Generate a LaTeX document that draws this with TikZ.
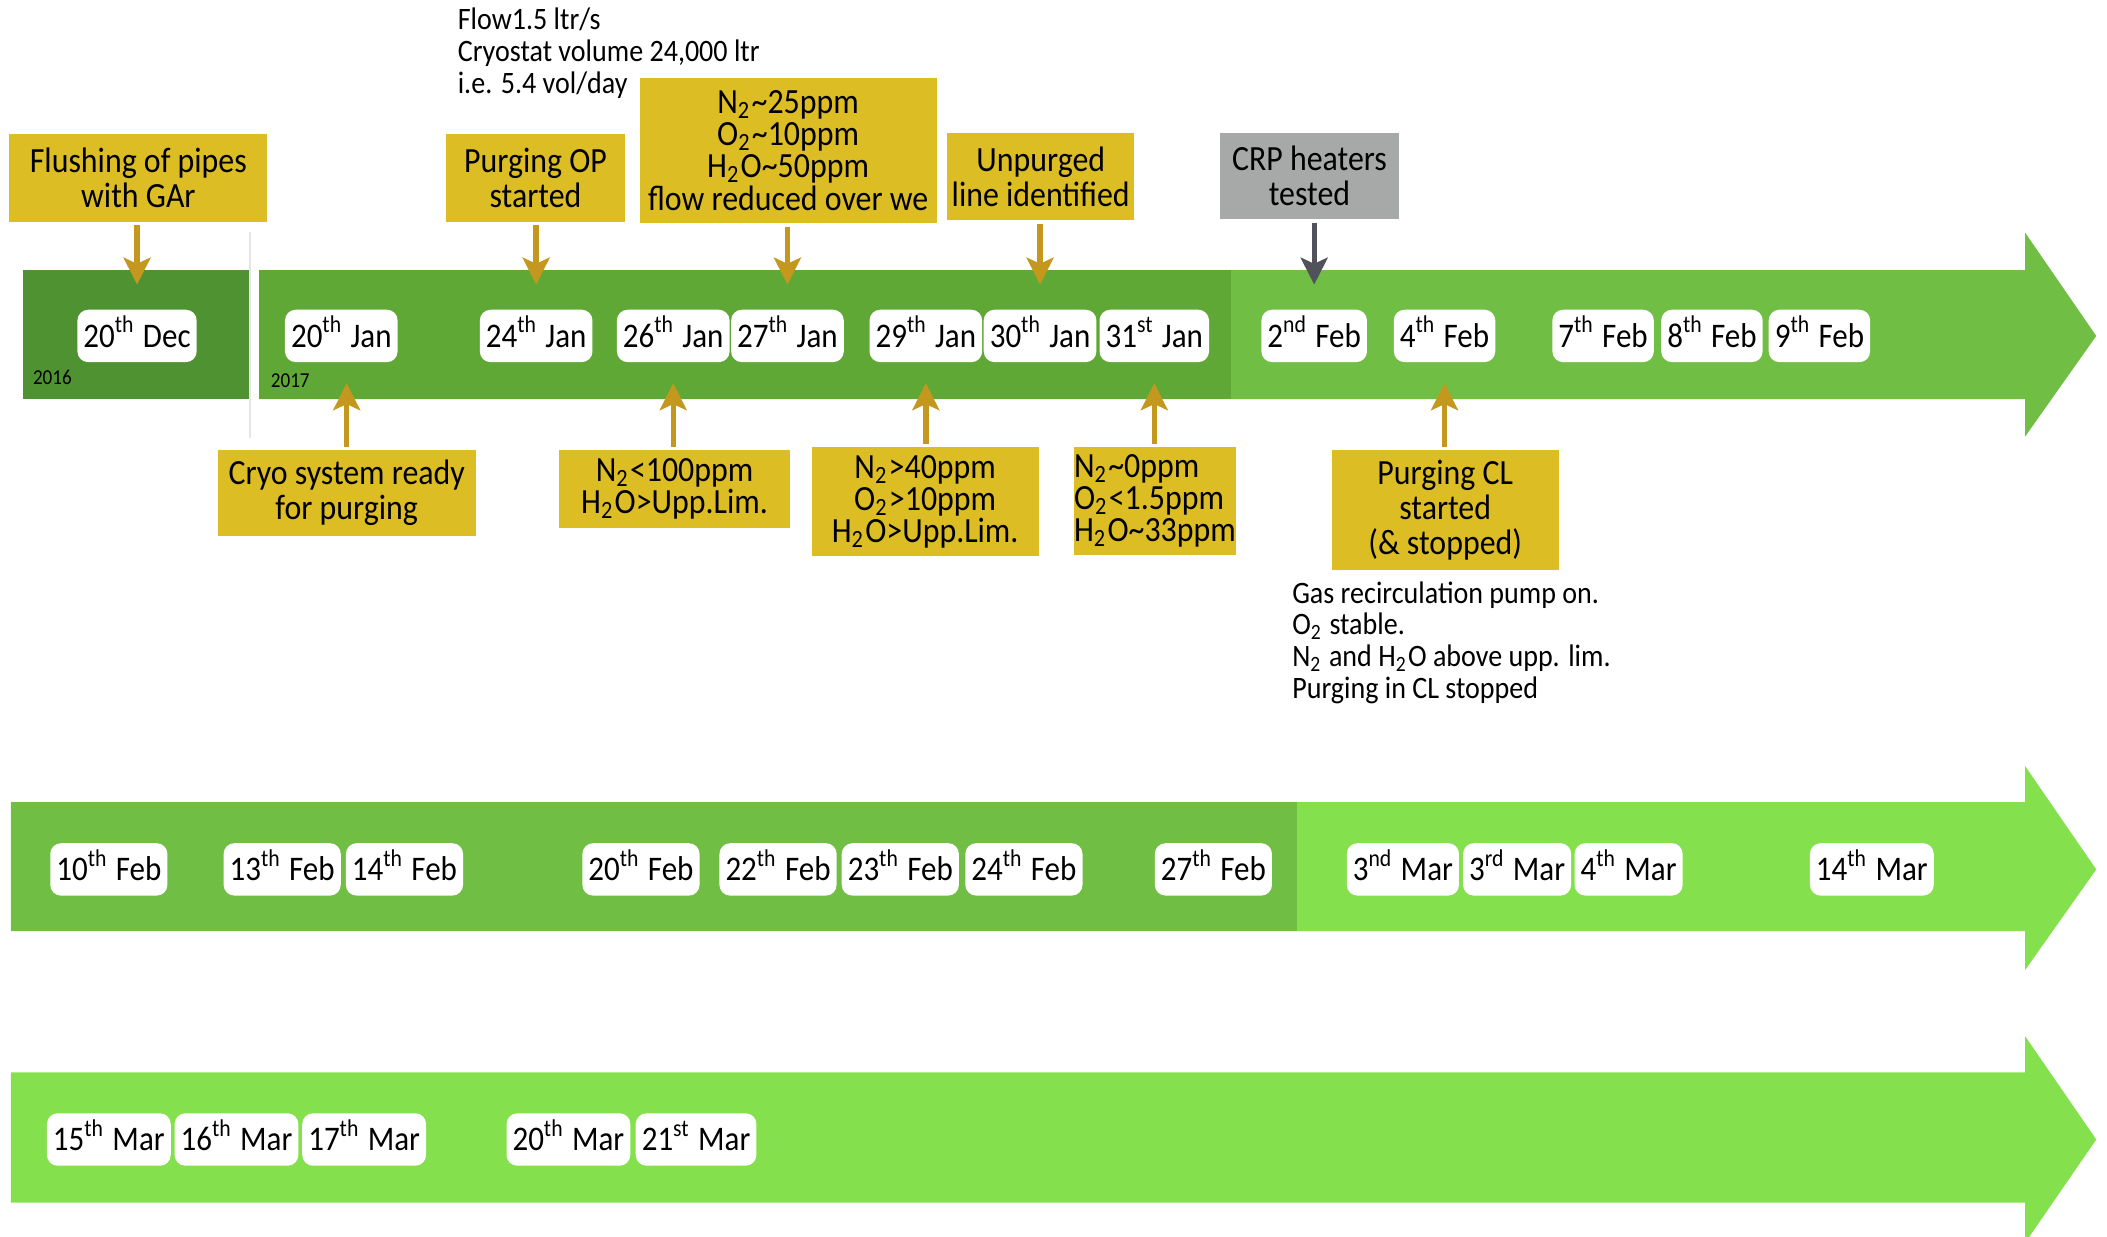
\documentclass[tikz,border=0pt]{standalone}
\usepackage{fontspec}
\setmainfont{Carlito}[FakeStretch=0.9]
\usetikzlibrary{arrows.meta}

\definecolor{greenA}{RGB}{79,146,49}
\definecolor{greenB}{RGB}{95,168,54}
\definecolor{greenC}{RGB}{112,191,68}
\definecolor{greenD}{RGB}{132,224,77}
\definecolor{callgold}{RGB}{221,189,36}
\definecolor{arrgold}{RGB}{196,152,30}
\definecolor{callgrey}{RGB}{166,169,167}
\definecolor{arrgrey}{RGB}{80,83,90}

\tikzset{
  datepill/.style={fill=white, rounded corners=0.8mm, inner xsep=0.45mm, inner ysep=0pt,
    text height=2.2mm, text depth=0.55mm, minimum height=3.9mm, font=\fontsize{7.3}{7.3}\selectfont},
  callout/.style={fill=callgold, align=center, inner sep=0pt, font=\fontsize{7.5}{7.4}\selectfont},
  ppmbox/.style={callout, font=\fontsize{7.5}{6.8}\selectfont},
  note/.style={align=left, anchor=north west, inner sep=0pt, font=\fontsize{6.6}{6.75}\selectfont},
  goldarrow/.style={-{Stealth[length=2mm,width=2mm,inset=0.45mm]}, arrgold, line width=0.4mm,
    shorten <=0.2mm},
  yearlabel/.style={inner sep=0pt, font=\fontsize{4.5}{5}\selectfont}
}
\newcommand{\tldate}[3]{#1\textsuperscript{#2} #3}

\begin{document}
\begin{tikzpicture}[x=0.1mm, y=-0.1mm]
  \useasboundingbox (0,0) rectangle (1568,920);

  % row 1 band
  \fill[greenC] (193,201) -- (1507,201) -- (1507,173) -- (1560,250) -- (1507,325)
    -- (1507,297) -- (193,297) -- cycle;
  \fill[greenB] (193,201) rectangle (916,297);
  \fill[greenA] (17,201) rectangle (185.5,297);
  \draw[black!10, line width=0.1mm] (186,173) -- (186,326);
  \node[yearlabel] (y2016) at (39,281) {2016};
  \node[yearlabel] (y2017) at (216,283.5) {2017};

  % row 2 band
  \fill[greenD] (8,597) -- (1507,597) -- (1507,570) -- (1560,647) -- (1507,722)
    -- (1507,693) -- (8,693) -- cycle;
  \fill[greenC] (8,597) rectangle (965,693);

  % row 3 band
  \fill[greenD] (8,798) -- (1507,798) -- (1507,771) -- (1560,848) -- (1507,925)
    -- (1507,895) -- (8,895) -- cycle;

  % dates, row 1
  \node[datepill] (dec20) at (102,250) {\tldate{20}{th}{Dec}};
  \node[datepill] (jan20) at (254,250) {\tldate{20}{th}{Jan}};
  \node[datepill] (jan24) at (399,250) {\tldate{24}{th}{Jan}};
  \node[datepill] (jan26) at (501,250) {\tldate{26}{th}{Jan}};
  \node[datepill] (jan27) at (586,250) {\tldate{27}{th}{Jan}};
  \node[datepill] (jan29) at (689,250) {\tldate{29}{th}{Jan}};
  \node[datepill] (jan30) at (774,250) {\tldate{30}{th}{Jan}};
  \node[datepill] (jan31) at (859,250) {\tldate{31}{st}{Jan}};
  \node[datepill] (feb2) at (978,250) {\tldate{2}{nd}{Feb}};
  \node[datepill] (feb4) at (1075,250) {\tldate{4}{th}{Feb}};
  \node[datepill] (feb7) at (1193,250) {\tldate{7}{th}{Feb}};
  \node[datepill] (feb8) at (1274,250) {\tldate{8}{th}{Feb}};
  \node[datepill] (feb9) at (1354,250) {\tldate{9}{th}{Feb}};

  % dates, row 2
  \node[datepill] (feb10) at (81,647) {\tldate{10}{th}{Feb}};
  \node[datepill] (feb13) at (210,647) {\tldate{13}{th}{Feb}};
  \node[datepill] (feb14) at (301,647) {\tldate{14}{th}{Feb}};
  \node[datepill] (feb20) at (477,647) {\tldate{20}{th}{Feb}};
  \node[datepill] (feb22) at (579,647) {\tldate{22}{th}{Feb}};
  \node[datepill] (feb23) at (670,647) {\tldate{23}{th}{Feb}};
  \node[datepill] (feb24) at (762,647) {\tldate{24}{th}{Feb}};
  \node[datepill] (feb27) at (903,647) {\tldate{27}{th}{Feb}};
  \node[datepill] (mar3a) at (1044,647) {\tldate{3}{nd}{Mar}};
  \node[datepill] (mar3b) at (1129,647) {\tldate{3}{rd}{Mar}};
  \node[datepill] (mar4) at (1212,647) {\tldate{4}{th}{Mar}};
  \node[datepill] (mar14) at (1393,647) {\tldate{14}{th}{Mar}};

  % dates, row 3
  \node[datepill] (mar15) at (81,848) {\tldate{15}{th}{Mar}};
  \node[datepill] (mar16) at (176,848) {\tldate{16}{th}{Mar}};
  \node[datepill] (mar17) at (271,848) {\tldate{17}{th}{Mar}};
  \node[datepill] (mar20) at (423,848) {\tldate{20}{th}{Mar}};
  \node[datepill] (mar21) at (518,848) {\tldate{21}{st}{Mar}};

  % callouts above
  \node[callout, minimum width=19.2mm, minimum height=6.5mm] (flush) at (103,132.5)
    {Flushing of pipes\\with GAr};
  \node[callout, minimum width=13.3mm, minimum height=6.5mm] (purgeop) at (398.5,132.5)
    {Purging OP\\started};
  \node[ppmbox, minimum width=22.1mm, minimum height=10.8mm] (ppmtop) at (586.5,112)
    {N\textsubscript{2}\textasciitilde25ppm\\O\textsubscript{2}\textasciitilde10ppm\\
     H\textsubscript{2}O\textasciitilde50ppm\\flow reduced over we};
  \node[callout, minimum width=13.9mm, minimum height=6.5mm] (unpurged) at (774.5,131.5)
    {Unpurged\\line identified};
  \node[callout, fill=callgrey, minimum width=13.3mm, minimum height=6.4mm] (crp) at (974.5,131)
    {CRP heaters\\tested};
  \node[note] (flownote) at (340,5)
    {Flow1.5 ltr/s\\Cryostat volume 24,000 ltr\\i.e. 5.4 vol/day};

  % callouts below
  \node[callout, minimum width=19.2mm, minimum height=6.4mm] (cryo) at (258,367)
    {Cryo system ready\\for purging};
  \node[ppmbox, minimum width=17.2mm, minimum height=5.8mm] (ppmA) at (502,364)
    {N\textsubscript{2}<100ppm\\H\textsubscript{2}O>Upp.Lim.};
  \node[ppmbox, minimum width=16.9mm, minimum height=8.1mm] (ppmB) at (688.5,373.5)
    {N\textsubscript{2}>40ppm\\O\textsubscript{2}>10ppm\\H\textsubscript{2}O>Upp.Lim.};
  \node[ppmbox, align=left, minimum width=11.9mm, minimum height=8mm] (ppmC) at (859.5,373)
    {N\textsubscript{2}\textasciitilde0ppm\\O\textsubscript{2}<1.5ppm\\H\textsubscript{2}O\textasciitilde33ppm};
  \node[callout, minimum width=16.9mm, minimum height=8.9mm] (purgecl) at (1075.5,379.5)
    {Purging CL\\started\\(\& stopped)};
  \node[note] (gasnote) at (961,432)
    {Gas recirculation pump on.\\O\textsubscript{2} stable.\\
     N\textsubscript{2} and H\textsubscript{2}O above upp. lim.\\Purging in CL stopped};

  % arrows
  \draw[goldarrow] (dec20.north |- flush.south) -- ([yshift=1.8mm]dec20.north);
  \draw[goldarrow] (jan24.north |- purgeop.south) -- ([yshift=1.8mm]jan24.north);
  \draw[goldarrow] (jan27.north |- ppmtop.south) -- ([yshift=1.8mm]jan27.north);
  \draw[goldarrow] (jan30.north |- unpurged.south) -- ([yshift=1.8mm]jan30.north);
  \draw[goldarrow, arrgrey] (feb2.north |- crp.south) -- ([yshift=1.8mm]feb2.north);
  \draw[goldarrow] (cryo.north) -- ([yshift=-1.5mm]cryo.north |- jan20.south);
  \draw[goldarrow] (jan26.south |- ppmA.north) -- ([yshift=-1.5mm]jan26.south);
  \draw[goldarrow] (jan29.south |- ppmB.north) -- ([yshift=-1.5mm]jan29.south);
  \draw[goldarrow] (jan31.south |- ppmC.north) -- ([yshift=-1.5mm]jan31.south);
  \draw[goldarrow] (feb4.south |- purgecl.north) -- ([yshift=-1.5mm]feb4.south);
\end{tikzpicture}
\end{document}
